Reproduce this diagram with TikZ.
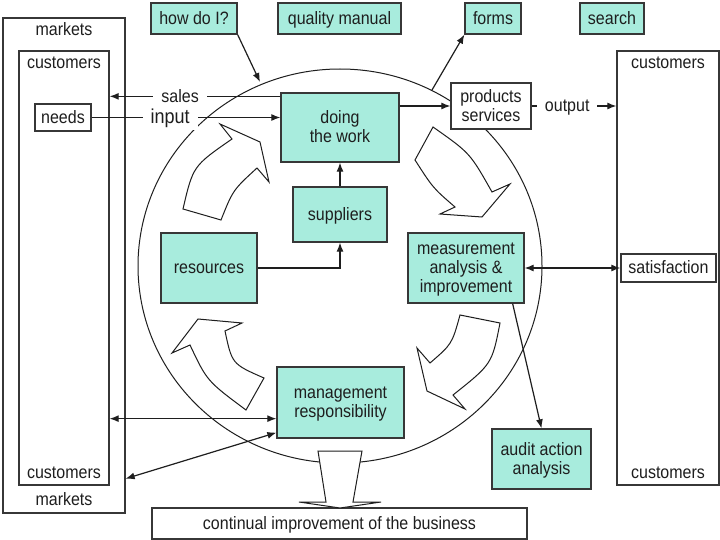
\documentclass[tikz,border=0pt]{standalone}
\usepackage{fontspec}
\setmainfont{Liberation Sans}
\usepackage{graphicx}
\usetikzlibrary{arrows.meta,calc}
\definecolor{aqua}{RGB}{168,236,221}
\definecolor{bord}{RGB}{55,55,55}
\definecolor{ink}{RGB}{30,30,30}
\newcommand{\tx}[1]{\raisebox{-2pt}[\height][\depth]{\scalebox{1}[1.12]{\begin{tabular}{@{}c@{}}#1\end{tabular}}}}
\begin{document}
\begin{tikzpicture}[x=1pt,y=-1pt,
  every node/.style={font=\fontsize{16}{17}\selectfont, text=ink},
  cy/.style={draw=bord, fill=aqua, line width=1.3pt, inner sep=0pt},
  wb/.style={draw=bord, fill=white, line width=1.3pt, inner sep=0pt},
  lbl/.style={inner sep=0pt},
  gap/.style={fill=white, inner xsep=8pt, inner ysep=2pt},
  arr/.style={draw=ink, line width=1.2pt, -{Latex[length=9pt,width=7pt]}},
  darr/.style={draw=ink, line width=1.2pt, {Latex[length=9pt,width=7pt]}-{Latex[length=9pt,width=7pt]}},
  blk/.style={draw=ink, fill=white, line width=1pt, line join=miter}
]
\useasboundingbox (0,0) rectangle (720,540);
\fill[white] (0,0) rectangle (720,540);

% big ellipse
\draw[draw=ink, line width=1pt] (340,266) ellipse [x radius=202pt, y radius=197pt];
\coordinate (e1) at (260,82);
\coordinate (e2) at (432,90);

% top boxes
\node[cy, minimum width=86pt, minimum height=31pt] (howdo) at (194,18.5) {\tx{how do I?}};
\node[cy, minimum width=123pt, minimum height=31pt] (quality) at (339.5,18.5) {\tx{quality manual}};
\node[cy, minimum width=56pt, minimum height=31pt] (forms) at (493,18.5) {\tx{forms}};
\node[cy, minimum width=64pt, minimum height=31pt] (search) at (612,18.5) {\tx{search}};

% left markets / customers
\node[wb, minimum width=122pt, minimum height=495pt] (markets) at (64,265.5) {};
\node[wb, minimum width=90pt, minimum height=434pt] (custL) at (64,268) {};
\node[lbl] (mk1) at (64,30) {\tx{markets}};
\node[lbl] (cl1) at (64,63) {\tx{customers}};
\node[lbl] (cl2) at (64,473) {\tx{customers}};
\node[lbl] (mk2) at (64,500) {\tx{markets}};
\node[wb, minimum width=56pt, minimum height=27pt] (needs) at (63,117.5) {\tx{needs}};

% right customers
\node[wb, minimum width=102pt, minimum height=434pt] (custR) at (668,268) {};
\node[lbl] (cr1) at (668,63) {\tx{customers}};
\node[lbl] (cr2) at (668,473) {\tx{customers}};
\node[wb, minimum width=95pt, minimum height=28pt] (satis) at (668.5,268) {\tx{satisfaction}};

% inner boxes
\node[cy, minimum width=118pt, minimum height=69pt] (work) at (340,127.5) {\tx{doing\\the work}};
\node[wb, minimum width=80pt, minimum height=46pt] (prod) at (491,106) {\tx{products\\services}};
\node[cy, minimum width=94pt, minimum height=55pt] (supp) at (340,214.5) {\tx{suppliers}};
\node[cy, minimum width=96pt, minimum height=70pt] (res) at (209,268) {\tx{resources}};
\node[cy, minimum width=116pt, minimum height=70pt] (meas) at (466,268) {\tx{measurement\\analysis \&\\improvement}};
\node[cy, minimum width=127pt, minimum height=71pt] (mgmt) at (340.5,402.5) {\tx{management\\responsibility}};
\node[cy, minimum width=99pt, minimum height=60pt] (audit) at (541.5,459) {\tx{audit action\\analysis}};
\node[wb, minimum width=375pt, minimum height=31pt] (cont) at (339.5,523.5) {\tx{continual improvement of the business}};

% connectors
\coordinate (s1) at ($(work.north west)+(0,4)$);
\draw[arr] (s1) -- (custL.east |- s1) node[gap, pos=0.587] (sales) {\tx{sales}};
\draw[arr] (needs.east) -- (work.west |- needs.east) node[gap, pos=0.416, font=\fontsize{18}{19}\selectfont] (input) {\tx{input}};
\draw[arr] (work.east |- prod.west) -- (prod.west);
\draw[arr] (prod.east) -- (custR.west |- prod.east) node[gap, pos=0.42] (output) {\tx{output}};
\draw[arr] (howdo.south east) -- (e1);
\draw[arr] (e2) -- (forms.south west);
\draw[arr] (supp.north) -- (work.south);
\draw[arr] (res.east) -| (supp.south);
\draw[darr] (meas.east) -- (satis.west);
\draw[arr] ($(meas.south east)+(-12,0)$) -- (audit.north);
\coordinate (m1) at ($(mgmt.south west)+(0,-20)$);
\draw[darr] (custL.east |- m1) -- (m1);
\coordinate (m2) at ($(mgmt.south west)+(0,-6)$);
\coordinate (m3) at ($(markets.south east)+(0,-35)$);
\draw[darr] (m3) -- (m2);

% curved block arrows
\draw[blk] (220,124) -- (232,139) .. controls (193,166) .. (183,209) -- (221,220)
  .. controls (233,190) .. (257,168) -- (269,182) -- (260,142) -- cycle;
\draw[blk] (433,127) -- (415,160) .. controls (433,188) .. (455,207) -- (440,214)
  -- (482,217) -- (510,184) -- (492,192) .. controls (470,153) .. (433,127) -- cycle;
\draw[blk] (198,319) -- (242,323) -- (225,331) .. controls (232,364) .. (264,378)
  -- (246,410) .. controls (207,381) .. (190,345) -- (172,353) -- cycle;
\draw[blk] (460,315) -- (500,323) .. controls (492,364) .. (453,395) -- (465,409)
  -- (427,391) -- (417,348) -- (430,363) .. controls (452,344) .. (460,315) -- cycle;

% bottom block arrow
\draw[blk] (318,451) -- (362,451) -- (353,502) -- (381,502) -- (340,508)
  -- (299,502) -- (326,502) -- cycle;
\end{tikzpicture}
\end{document}
